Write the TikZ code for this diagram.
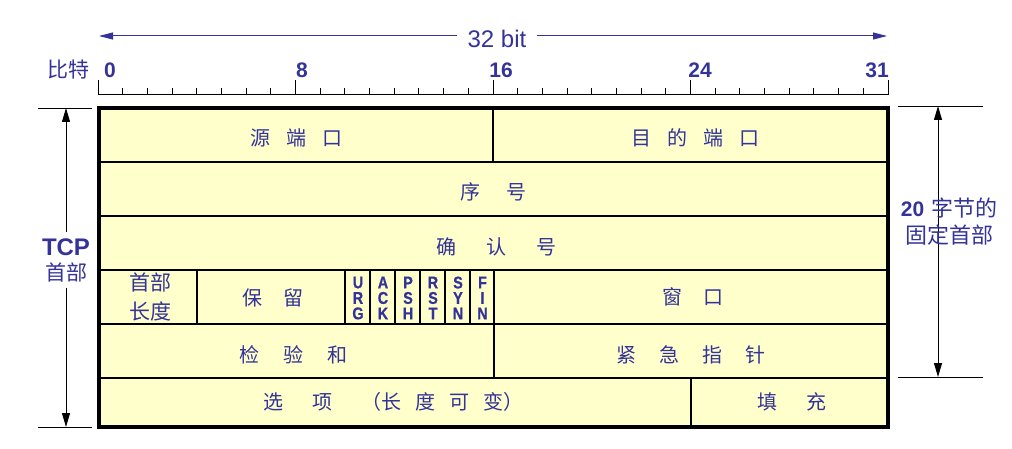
\documentclass[tikz,border=0pt]{standalone}
\usepackage{fontspec}
\setmainfont{Liberation Sans}
\newfontfamily\cjk{Noto Sans CJK SC}
\newfontfamily\flagfont{Liberation Sans}[FakeBold=0.6]
\usetikzlibrary{arrows.meta}
\definecolor{tblue}{RGB}{51,51,153}
\definecolor{cellbg}{RGB}{255,255,204}
\newcommand\gp[1]{\hspace{#1pt}}
\newcommand\flg[3]{\scalebox{0.85}[1]{#1}\\\scalebox{0.85}[1]{#2}\\\scalebox{0.85}[1]{#3}}
\begin{document}
\begin{tikzpicture}[x=1pt,y=-1pt,
  lbl/.style={text=tblue,font=\cjk\fontsize{20}{24}\selectfont,inner sep=0pt},
  flagtxt/.style={text=tblue,font=\flagfont\bfseries\fontsize{17}{15.5}\selectfont,align=center,inner sep=0pt},
  num/.style={text=tblue,font=\bfseries\fontsize{21}{24}\selectfont,inner sep=0pt},
  inner/.style={line width=1.5pt},
  dimline/.style={line width=0.8pt},
  barrow/.style={line width=1pt,-{Triangle[length=14pt,width=8pt]}},
  tarrow/.style={line width=1pt,tblue,-{Triangle[length=14pt,width=7pt]}}
]
\useasboundingbox (0,0) rectangle (1012,449);

% ---- top scale ----
\node[text=tblue,font=\fontsize{24}{28}\selectfont,inner xsep=10pt,inner ysep=2pt] (bits) at (497,39) {32 bit};
\coordinate (tl) at (99,36);
\coordinate (tr) at (887,36);
\draw[tarrow] ([yshift=3pt]bits.west) -- (tl);
\draw[tarrow] ([yshift=3pt]bits.east) -- (tr);

\node[text=tblue,font=\cjk\fontsize{21}{24}\selectfont,inner sep=0pt] (bitlbl) at (68,70) {比特};
\node[num] (n0) at (110,70) {0};
\node[num] (n8) at (302,70) {8};
\node[num] (n16) at (501,70) {16};
\node[num] (n24) at (700,70) {24};
\node[num] (n31) at (877,70) {31};

\draw[line width=1pt] (98,95) -- (888,95);
\foreach \i in {0,...,32}{
  \pgfmathsetmacro\xx{98+\i*24.6875}
  \pgfmathtruncatemacro\mm{mod(\i,8)}
  \ifnum\mm=0
    \draw[line width=1pt] (\xx,95) -- (\xx,80);
  \else
    \draw[line width=1pt] (\xx,95) -- (\xx,88);
  \fi
}

% ---- table ----
\fill[cellbg] (99,108) rectangle (888,427);
\foreach \yy in {162,216,270,324,378}{
  \draw[inner] (99,\yy) -- (888,\yy);
}
\draw[inner] (493,108) -- (493,162);
\foreach \xx in {197,345,370,395,420,445,470,494}{
  \draw[inner] (\xx,270) -- (\xx,324);
}
\draw[inner] (494,324) -- (494,378);
\draw[inner] (691,378) -- (691,427);
\draw[line width=4pt] (99,108) rectangle (888,427);

% ---- field labels ----
\node[lbl] (src) at (296,138) {源\gp{16}端\gp{16}口};
\node[lbl] (dst) at (695,138) {目\gp{16}的\gp{16}端\gp{16}口};
\node[lbl] (seq) at (493,192) {序\gp{26}号};
\node[lbl] (ackn) at (496,247) {确\gp{30}认\gp{30}号};
\node[lbl,align=center,font=\cjk\fontsize{21}{29}\selectfont] (hlen) at (150,297) {首部\\长度};
\node[lbl] (rsv) at (273,298) {保\gp{21}留};
\node[flagtxt] (furg) at (358,298) {\flg{U}{R}{G}};
\node[flagtxt] (fack) at (383,298) {\flg{A}{C}{K}};
\node[flagtxt] (fpsh) at (408,298) {\flg{P}{S}{H}};
\node[flagtxt] (frst) at (433,298) {\flg{R}{S}{T}};
\node[flagtxt] (fsyn) at (458,298) {\flg{S}{Y}{N}};
\node[flagtxt] (ffin) at (482.5,298) {\flg{F}{I}{N}};
\node[lbl] (win) at (693,297) {窗\gp{21}口};
\node[lbl] (chk) at (293,355) {检\gp{24}验\gp{24}和};
\node[lbl] (urgp) at (691,355) {紧\gp{23}急\gp{23}指\gp{23}针};
\node[lbl] (opt) at (393,402) {选\gp{29}项\gp{29}（长\gp{14}度\gp{14}可\gp{14}变）};
\node[lbl] (pad) at (792,402) {填\gp{29}充};

% ---- left dimension ----
\coordinate (lt1) at (38,108); \coordinate (lt2) at (92,108);
\coordinate (lb1) at (38,427); \coordinate (lb2) at (92,427);
\draw[dimline] (lt1) -- (lt2);
\draw[dimline] (lb1) -- (lb2);
\node[text=tblue,align=center,inner xsep=0pt,inner ysep=6pt,font=\fontsize{21}{25}\selectfont] (tcp) at (66,260)
  {{\bfseries\fontsize{24}{25}\selectfont TCP}\\{\cjk\fontsize{21}{25}\selectfont 首部}};
\coordinate (la) at (66,108);
\coordinate (lb) at (66,427);
\draw[barrow] (tcp.north) -- (la);
\draw[barrow] (tcp.south) -- (lb);

% ---- right dimension ----
\coordinate (rt1) at (898,106); \coordinate (rt2) at (983,106);
\coordinate (rb1) at (898,377); \coordinate (rb2) at (983,377);
\draw[dimline] (rt1) -- (rt2);
\draw[dimline] (rb1) -- (rb2);
\coordinate (ra) at (938,106);
\coordinate (rb) at (938,377);
\draw[line width=1pt,{Triangle[length=14pt,width=8pt]}-{Triangle[length=14pt,width=8pt]}] (ra) -- (rb);
\node[text=tblue,align=center,inner sep=0pt,font=\fontsize{22}{27}\selectfont] (fix) at (949,222)
  {{\bfseries\fontsize{21}{27}\selectfont 20}\hspace{7pt}{\cjk\fontsize{22}{27}\selectfont 字节的}\\{\cjk\fontsize{22}{27}\selectfont 固定首部}};
\end{tikzpicture}
\end{document}
